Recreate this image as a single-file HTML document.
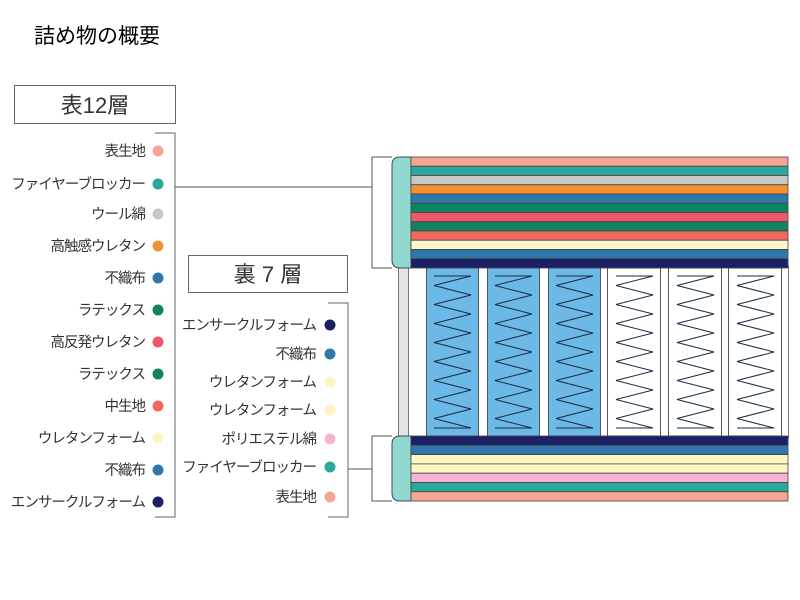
<!DOCTYPE html>
<html><head><meta charset="utf-8"><style>
html,body{margin:0;padding:0;background:#fff;width:800px;height:600px;overflow:hidden}
svg text{font-family:"Liberation Sans","Noto Sans CJK JP",sans-serif;fill:#333}
</style></head><body>
<svg width="800" height="600" viewBox="0 0 800 600" xmlns="http://www.w3.org/2000/svg">
<defs>
<g id="sp"><polyline fill="none" stroke="#1a2a40" stroke-width="1" points="8,276 45,276 8,285.5 45,295 8,304.5 45,314 8,323.5 45,333 8,342.5 45,352 8,361.5 45,371 8,380.5 45,390 8,399.5 45,409 8,418.5 45,428 8,428"/></g>
</defs>
<text x="34" y="43" style="font-size:21px;fill:#000">詰め物の概要</text>

<rect x="14.5" y="85.5" width="161" height="38" fill="#fff" stroke="#666"/>
<text x="95" y="113" text-anchor="middle" style="font-size:22px">表12層</text>
<polyline points="155,133 175,133 175,517 155,517" fill="none" stroke="#666"/>
<line x1="175" y1="187" x2="372" y2="187" stroke="#555"/>
<polyline points="392,157 372,157 372,268 392,268" fill="none" stroke="#555"/>
<g style="font-size:14.5px;letter-spacing:-1px" text-anchor="end">
<text x="145" y="156">表生地</text>
<text x="145" y="189">ファイヤーブロッカー</text>
<text x="145" y="219">ウール綿</text>
<text x="145" y="251">高触感ウレタン</text>
<text x="145" y="283">不織布</text>
<text x="145" y="315">ラテックス</text>
<text x="145" y="347">高反発ウレタン</text>
<text x="145" y="379">ラテックス</text>
<text x="145" y="411">中生地</text>
<text x="145" y="443">ウレタンフォーム</text>
<text x="145" y="475">不織布</text>
<text x="145" y="507">エンサークルフォーム</text>
</g>
<g>
<circle cx="158" cy="151" r="5.5" fill="#f4a593"/>
<circle cx="158" cy="184" r="5.5" fill="#2aa89a"/>
<circle cx="158" cy="214" r="5.5" fill="#c7c7c7"/>
<circle cx="158" cy="246" r="5.5" fill="#f39130"/>
<circle cx="158" cy="278" r="5.5" fill="#2f77a8"/>
<circle cx="158" cy="310" r="5.5" fill="#0f8460"/>
<circle cx="158" cy="342" r="5.5" fill="#f0566e"/>
<circle cx="158" cy="374" r="5.5" fill="#0f8460"/>
<circle cx="158" cy="406" r="5.5" fill="#f0695a"/>
<circle cx="158" cy="438" r="5.5" fill="#fff3c4"/>
<circle cx="158" cy="470" r="5.5" fill="#2f77a8"/>
<circle cx="158" cy="502" r="5.5" fill="#1a2066"/>
</g>

<rect x="188.5" y="255.5" width="159" height="37" fill="#fff" stroke="#666"/>
<text x="268" y="282" text-anchor="middle" style="font-size:22px">裏 7 層</text>
<polyline points="328,303 348,303 348,517 328,517" fill="none" stroke="#666"/>
<line x1="348" y1="469" x2="372" y2="469" stroke="#555"/>
<polyline points="392,436 372,436 372,501 392,501" fill="none" stroke="#555"/>
<g style="font-size:14.5px;letter-spacing:-1px" text-anchor="end">
<text x="316" y="330">エンサークルフォーム</text>
<text x="316" y="359">不織布</text>
<text x="316" y="387">ウレタンフォーム</text>
<text x="316" y="415">ウレタンフォーム</text>
<text x="316" y="444">ポリエステル綿</text>
<text x="316" y="472">ファイヤーブロッカー</text>
<text x="316" y="502">表生地</text>
</g>
<g>
<circle cx="330" cy="325" r="5.5" fill="#1a2066"/>
<circle cx="330" cy="354" r="5.5" fill="#2f77a8"/>
<circle cx="330" cy="382" r="5.5" fill="#fff3c4"/>
<circle cx="330" cy="410" r="5.5" fill="#fff3c4"/>
<circle cx="330" cy="439" r="5.5" fill="#f7b3d6"/>
<circle cx="330" cy="467" r="5.5" fill="#2aa89a"/>
<circle cx="330" cy="497" r="5.5" fill="#f4a593"/>
</g>

<rect x="398.5" y="266" width="10" height="172" fill="#e4e4e4" stroke="#777"/>
<rect x="408.5" y="266" width="380" height="172" fill="#fff" stroke="#777"/>
<g stroke="#556" stroke-width="1">
<rect x="426.5" y="268" width="52" height="168" fill="#6cb8e6"/>
<rect x="487.5" y="268" width="52" height="168" fill="#6cb8e6"/>
<rect x="548.5" y="268" width="52" height="168" fill="#6cb8e6"/>
<rect x="607.5" y="268" width="53" height="168" fill="#fff"/>
<rect x="668.5" y="268" width="53" height="168" fill="#fff"/>
<rect x="728.5" y="268" width="53" height="168" fill="#fff"/>
</g>
<use href="#sp" x="426"/><use href="#sp" x="487"/><use href="#sp" x="548"/>
<use href="#sp" x="608"/><use href="#sp" x="669"/><use href="#sp" x="729"/>

<path d="M411,157 L400,157 Q392,157 392,165 L392,260 Q392,268 400,268 L411,268 Z" fill="#8fd9cf" stroke="#446"/>
<g stroke="#444" stroke-width="0.8">
<rect x="411" y="157" width="377" height="9.25" fill="#f4a593"/>
<rect x="411" y="166.25" width="377" height="9.25" fill="#2aa89a"/>
<rect x="411" y="175.5" width="377" height="9.25" fill="#c7c7c7"/>
<rect x="411" y="184.75" width="377" height="9.25" fill="#f39130"/>
<rect x="411" y="194" width="377" height="9.25" fill="#2f77a8"/>
<rect x="411" y="203.25" width="377" height="9.25" fill="#0f8460"/>
<rect x="411" y="212.5" width="377" height="9.25" fill="#f0566e"/>
<rect x="411" y="221.75" width="377" height="9.25" fill="#0f8460"/>
<rect x="411" y="231" width="377" height="9.25" fill="#f0695a"/>
<rect x="411" y="240.25" width="377" height="9.25" fill="#fff6cc"/>
<rect x="411" y="249.5" width="377" height="9.25" fill="#2f77a8"/>
<rect x="411" y="258.75" width="377" height="9.25" fill="#1a2066"/>
</g>

<path d="M411,436 L400,436 Q392,436 392,444 L392,493 Q392,501 400,501 L411,501 Z" fill="#8fd9cf" stroke="#446"/>
<g stroke="#444" stroke-width="0.8">
<rect x="411" y="436" width="377" height="9.3" fill="#1a2066"/>
<rect x="411" y="445.3" width="377" height="9.3" fill="#2f77a8"/>
<rect x="411" y="454.6" width="377" height="9.3" fill="#fff6c2"/>
<rect x="411" y="463.9" width="377" height="9.3" fill="#fff6c2"/>
<rect x="411" y="473.2" width="377" height="9.3" fill="#f7b3d6"/>
<rect x="411" y="482.5" width="377" height="9.3" fill="#2aa89a"/>
<rect x="411" y="491.8" width="377" height="9.2" fill="#f4a593"/>
</g>
</svg>
</body></html>
